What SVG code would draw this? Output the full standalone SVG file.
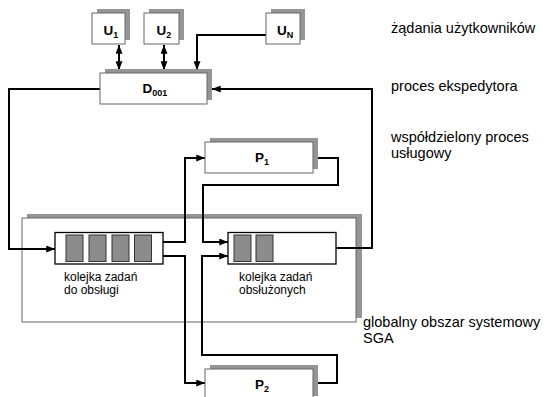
<svg xmlns="http://www.w3.org/2000/svg" width="544" height="397" viewBox="0 0 544 397">
<style>
  .box { fill: #ffffff; stroke: #666666; stroke-width: 1; }
  .shadow { fill: #959595; stroke: none; }
  .queue { fill: #ffffff; stroke: #000000; stroke-width: 1.3; }
  .cell { fill: #8c8c8c; stroke: #333333; stroke-width: 1; }
  .conn { fill: none; stroke: #000000; stroke-width: 2; }
  .lbl { font-family: "Liberation Sans", Arial, sans-serif; font-weight: bold; font-size: 13.5px; fill: #000; text-anchor: middle; }
  .sub { font-size: 9px; }
  .txt { font-family: "Liberation Sans", Arial, sans-serif; font-size: 14.5px; fill: #000; }
  .qtxt { font-family: "Liberation Sans", Arial, sans-serif; font-size: 12px; fill: #000; }
</style>
<defs>
  <marker id="arr" viewBox="0 0 10 8" refX="10" refY="4" markerWidth="9" markerHeight="7" markerUnits="userSpaceOnUse" orient="auto-start-reverse">
    <path d="M0,0 L10,4 L0,8 z" fill="#000"/>
  </marker>
</defs>

<g id="sga">
  <rect class="shadow" x="27" y="214" width="335" height="104"/>
  <rect x="22" y="218" width="334" height="104" fill="#ffffff" stroke="#666666" stroke-width="1"/>
  <text class="txt" x="363" y="327">globalny obszar systemowy</text>
  <text class="txt" x="363" y="343">SGA</text>
</g>

<g id="connectors">
  <line class="conn" x1="119" y1="45" x2="119" y2="70" marker-start="url(#arr)" marker-end="url(#arr)"/>
  <line class="conn" x1="164" y1="45" x2="164" y2="70" marker-start="url(#arr)" marker-end="url(#arr)"/>
  <path class="conn" d="M266,35 H197 V70" marker-end="url(#arr)"/>
  <path class="conn" d="M100,89 H9 V249 H55" marker-end="url(#arr)"/>
  <path class="conn" d="M336,248 H372 V89 H212" marker-end="url(#arr)"/>
  <path class="conn" d="M163,242 H185 V158 H205" marker-end="url(#arr)"/>
  <path class="conn" d="M163,256 H185 V383 H205" marker-end="url(#arr)"/>
  <path class="conn" d="M313,158 H338 V185 H203 V242 H228" marker-end="url(#arr)"/>
  <path class="conn" d="M313,383 H337 V355 H202 V256 H228" marker-end="url(#arr)"/>
</g>

<g id="u1">
  <rect class="shadow" x="97" y="9" width="33" height="31"/>
  <rect class="box" x="92" y="13" width="33" height="31"/>
  <text class="lbl" x="111" y="35">U<tspan class="sub" dy="3">1</tspan></text>
</g>
<g id="u2">
  <rect class="shadow" x="149" y="9" width="35" height="31"/>
  <rect class="box" x="144" y="13" width="35" height="31"/>
  <text class="lbl" x="164" y="35">U<tspan class="sub" dy="3">2</tspan></text>
</g>
<g id="un">
  <rect class="shadow" x="271" y="9" width="34" height="31"/>
  <rect class="box" x="266" y="13" width="34" height="31"/>
  <text class="lbl" x="285" y="35">U<tspan class="sub" dy="3">N</tspan></text>
</g>
<g id="label-users">
  <text class="txt" x="391" y="33">żądania użytkowników</text>
</g>

<g id="d001">
  <rect class="shadow" x="105" y="69" width="107" height="31"/>
  <rect class="box" x="100" y="73" width="107" height="31"/>
  <text class="lbl" x="155" y="93">D<tspan class="sub" dy="3">001</tspan></text>
</g>
<g id="label-disp">
  <text class="txt" x="391" y="91">proces ekspedytora</text>
</g>

<g id="p1">
  <rect class="shadow" x="210" y="138" width="108" height="31"/>
  <rect class="box" x="205" y="142" width="108" height="31"/>
  <text class="lbl" x="262" y="162">P<tspan class="sub" dy="3">1</tspan></text>
</g>
<g id="label-shared">
  <text class="txt" x="391" y="142">współdzielony proces</text>
  <text class="txt" x="391" y="158">usługowy</text>
</g>

<g id="p2">
  <rect class="shadow" x="210" y="365" width="108" height="31"/>
  <rect class="box" x="205" y="369" width="108" height="31"/>
  <text class="lbl" x="262" y="389">P<tspan class="sub" dy="3">2</tspan></text>
</g>

<g id="queue-in">
  <rect class="queue" x="55" y="232.5" width="108" height="31.5"/>
  <rect class="cell" x="66" y="235" width="17" height="26.5"/>
  <rect class="cell" x="89" y="235" width="17" height="26.5"/>
  <rect class="cell" x="112" y="235" width="17" height="26.5"/>
  <rect class="cell" x="134.5" y="235" width="17" height="26.5"/>
  <text class="qtxt" x="64" y="281">kolejka zadań</text>
  <text class="qtxt" x="64" y="294">do obsługi</text>
</g>

<g id="queue-out">
  <rect class="queue" x="228" y="232.5" width="108" height="31.5"/>
  <rect class="cell" x="234" y="235" width="17" height="26.5"/>
  <rect class="cell" x="256" y="235" width="17" height="26.5"/>
  <text class="qtxt" x="239" y="281">kolejka zadań</text>
  <text class="qtxt" x="239" y="294">obsłużonych</text>
</g>
</svg>
